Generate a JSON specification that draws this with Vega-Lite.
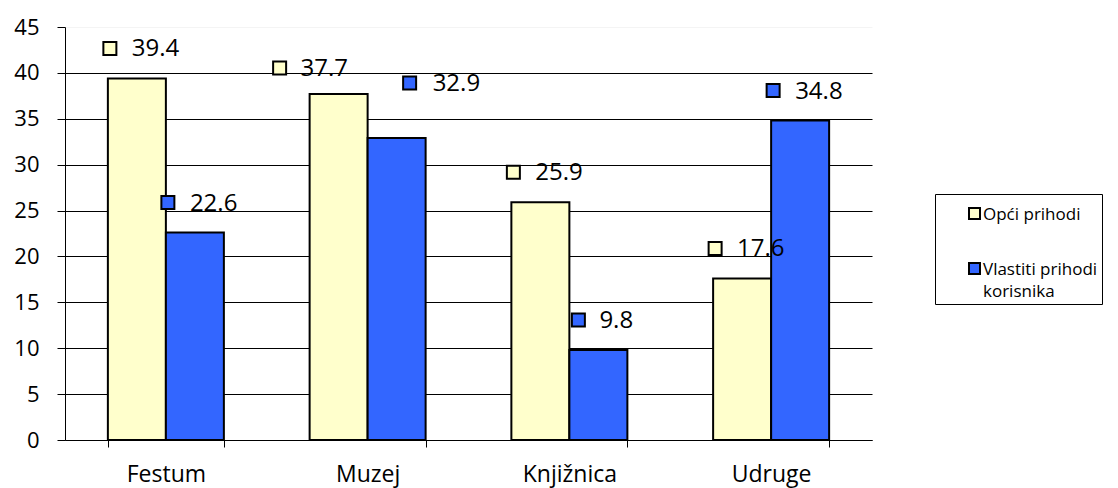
{
  "$schema": "https://vega.github.io/schema/vega-lite/v6.json",
  "width": 807,
  "height": 413,
  "autosize": {"type": "none"},
  "padding": {"left": 65, "top": 27, "right": 246, "bottom": 48},
  "background": "white",
  "config": {"view": {"stroke": null}, "font": "Open Sans"},
  "data": {
    "values": [
      {"category": "Festum", "series": "Opći prihodi", "value": 39.4},
      {"category": "Festum", "series": "Vlastiti prihodi korisnika", "value": 22.6},
      {"category": "Muzej", "series": "Opći prihodi", "value": 37.7},
      {"category": "Muzej", "series": "Vlastiti prihodi korisnika", "value": 32.9},
      {"category": "Knjižnica", "series": "Opći prihodi", "value": 25.9},
      {"category": "Knjižnica", "series": "Vlastiti prihodi korisnika", "value": 9.8},
      {"category": "Udruge", "series": "Opći prihodi", "value": 17.6},
      {"category": "Udruge", "series": "Vlastiti prihodi korisnika", "value": 34.8}
    ]
  },
  "encoding": {
    "x": {
      "field": "category",
      "type": "nominal",
      "sort": ["Festum", "Muzej", "Knjižnica", "Udruge"],
      "scale": {"paddingInner": 0.425, "paddingOuter": 0.2125},
      "axis": {
        "title": null,
        "labelAngle": 0,
        "labelFont": "Open Sans",
        "labelFontSize": 23,
        "labelColor": "black",
        "domainColor": "black",
        "domainWidth": 1,
        "tickColor": "black",
        "tickSize": 7,
        "tickBand": "extent",
        "labelPadding": 16,
        "grid": false
      }
    },
    "xOffset": {
      "field": "series",
      "type": "nominal",
      "sort": ["Opći prihodi", "Vlastiti prihodi korisnika"]
    },
    "y": {
      "field": "value",
      "type": "quantitative",
      "scale": {"domain": [0, 45], "nice": false},
      "axis": {
        "title": null,
        "values": [0, 5, 10, 15, 20, 25, 30, 35, 40, 45],
        "labelFont": "Open Sans",
        "labelFontSize": 22,
        "labelColor": "black",
        "labelPadding": 18,
        "domainColor": "black",
        "domainWidth": 1,
        "tickColor": "black",
        "tickSize": 8,
        "grid": true,
        "gridColor": {"condition": {"test": "datum.value == 45", "value": "#f4f4f4"}, "value": "black"},
        "gridOpacity": 1,
        "gridWidth": 1
      }
    }
  },
  "layer": [
    {
      "mark": {"type": "bar", "stroke": "black", "strokeWidth": 2, "opacity": 1},
      "encoding": {
        "color": {
          "field": "series",
          "type": "nominal",
          "sort": ["Opći prihodi", "Vlastiti prihodi korisnika"],
          "scale": {"domain": ["Opći prihodi", "Vlastiti prihodi korisnika"], "range": ["#FFFFCC", "#3366FF"]},
          "legend": {
            "title": null,
            "orient": "none",
            "legendX": 870,
            "legendY": 167,
            "direction": "vertical",
            "strokeColor": "black",
            "fillColor": "white",
            "padding": 4,
            "symbolType": "M-1,0.27 L1,0.27 L1,2.27 L-1,2.27 Z",
            "symbolSize": 121,
            "symbolStrokeColor": "black",
            "symbolStrokeWidth": 2,
            "symbolOpacity": 1,
            "symbolOffset": 27,
            "labelFont": "Open Sans",
            "labelFontSize": 17,
            "labelColor": "black",
            "labelBaseline": "top",
            "labelOffset": 0,
            "rowPadding": 30,
            "labelLimit": 800,
            "labelExpr": "datum.label == 'Vlastiti prihodi korisnika' ? ['Vlastiti prihodi\u00a0\u00a0\u00a0\u00a0\u00a0\u00a0\u00a0\u00a0\u00a0\u00a0\u00a0\u00a0\u00a0\u00a0\u00a0\u00a0\u00a0\u00a0\u00a0\u00a0', 'korisnika'] : datum.label",
            "encode": {"labels": {"update": {"lineHeight": {"value": 22}}}}
          }
        }
      }
    },
    {
      "mark": {
        "type": "point",
        "shape": {"expr": "datum.category == 'Muzej' ? (datum.series == 'Opći prihodi' ? 'M-65.5,-32.5 L-52.5,-32.5 L-52.5,-19.5 L-65.5,-19.5 Z' : 'M6.5,-61.5 L19.5,-61.5 L19.5,-48.5 L6.5,-48.5 Z') : (datum.category == 'Knjižnica' && datum.series != 'Opći prihodi' ? 'M-26.5,-36.5 L-13.5,-36.5 L-13.5,-23.5 L-26.5,-23.5 Z' : 'M-33.5,-36.5 L-20.5,-36.5 L-20.5,-23.5 L-33.5,-23.5 Z')"},
        "size": 4,
        "filled": true,
        "opacity": 1,
        "stroke": "black",
        "strokeWidth": 2
      },
      "encoding": {
        "color": {
          "field": "series",
          "type": "nominal",
          "sort": ["Opći prihodi", "Vlastiti prihodi korisnika"]
        }
      }
    },
    {
      "mark": {
        "type": "text",
        "align": "left",
        "baseline": "middle",
        "dx": {"expr": "datum.category == 'Muzej' ? (datum.series == 'Opći prihodi' ? -38 : 36) : (datum.category == 'Knjižnica' && datum.series != 'Opći prihodi' ? 1 : -5)"},
        "dy": {"expr": "datum.category == 'Muzej' ? (datum.series == 'Opći prihodi' ? -25 : -54) : -29"},
        "font": "Open Sans",
        "fontSize": 24,
        "color": "black"
      },
      "encoding": {
        "text": {"field": "value", "type": "quantitative", "format": ".1f"}
      }
    }
  ]
}
